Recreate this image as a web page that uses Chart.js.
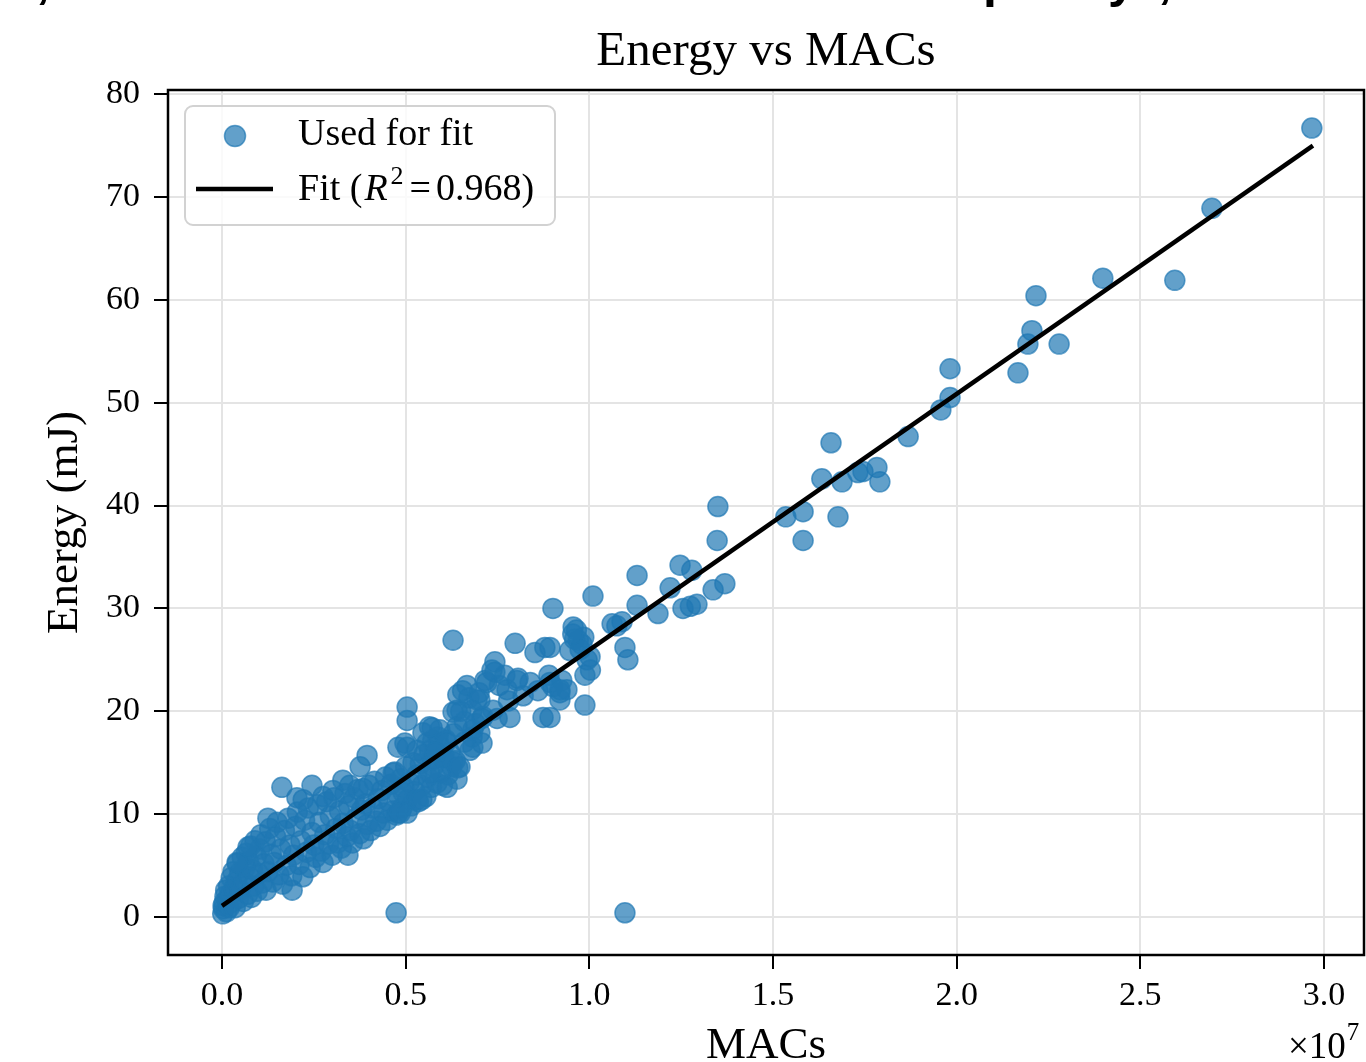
<!DOCTYPE html>
<html>
<head>
<meta charset="utf-8">
<title>Energy vs MACs</title>
<script src="https://cdn.jsdelivr.net/npm/chart.js@4.4.1/dist/chart.umd.min.js"></script>
<style>
  html, body { margin: 0; padding: 0; background: #fff; overflow: hidden; }
  #wrap { width: 1366px; height: 1062px; }
</style>
</head>
<body>
<div id="wrap"><canvas id="energyChart" width="1366" height="1062"></canvas></div>
<script>
// ===============================
// Data (MACs in units of 1e7, energy in mJ)
// ===============================
const usedForFit = [
  // dense cluster near the origin
  [0.002,0.3],[0.004,0.8],[0.006,1.4],[0.008,2.0],[0.003,1.1],[0.010,2.6],[0.012,0.5],[0.015,1.7],
  [0.018,3.0],[0.020,0.9],[0.022,2.2],[0.025,3.8],[0.028,1.4],[0.030,4.4],[0.033,2.8],[0.036,0.9],
  [0.040,3.5],[0.042,5.2],[0.045,1.8],[0.048,4.3],[0.050,2.6],[0.055,5.8],[0.058,1.5],[0.060,3.4],
  [0.063,4.8],[0.066,6.2],[0.070,2.2],[0.072,5.4],[0.075,3.9],[0.078,6.9],[0.080,1.9],[0.083,4.6],
  [0.086,3.0],[0.090,7.4],[0.093,5.9],[0.096,2.5],[0.100,4.2],[0.103,6.6],[0.106,8.0],[0.110,3.3],
  [0.114,5.2],[0.118,7.3],[0.120,2.6],[0.125,4.4],[0.130,8.6],[0.134,6.1],[0.138,3.4],[0.142,5.3],
  [0.146,7.8],[0.150,9.2],[0.155,4.1],[0.160,6.6],[0.165,3.2],[0.170,8.4],[0.175,5.0],[0.180,9.6],
  [0.185,7.0],[0.190,4.0],[0.195,6.0],[0.200,8.8],[0.205,10.2],[0.210,5.1],[0.215,7.4],[0.220,3.9],
  [0.225,9.4],[0.230,6.3],[0.235,10.6],[0.240,4.8],[0.245,8.2],[0.250,7.0],[0.255,5.8],[0.260,10.9],
  [0.265,9.2],[0.270,6.4],[0.275,5.3],[0.280,8.0],[0.285,11.2],[0.290,7.1],[0.295,9.8],[0.300,6.0],
  [0.305,11.6],[0.310,8.6],[0.315,7.2],[0.320,10.3],[0.325,6.7],[0.330,9.1],[0.335,12.0],[0.340,7.8],
  [0.345,10.8],[0.350,8.4],[0.355,7.2],[0.360,11.6],[0.365,9.6],[0.370,12.4],[0.375,8.1],[0.380,10.4],
  [0.385,7.6],[0.390,11.0],[0.395,9.0],[0.400,12.8],[0.405,8.4],[0.410,10.6],[0.415,13.2],[0.420,9.3],
  [0.425,11.5],[0.430,8.8],[0.435,12.3],[0.440,10.1],[0.445,13.6],[0.450,9.4],[0.455,11.2],[0.460,12.9],
  [0.465,10.3],[0.470,14.1],[0.475,9.9],[0.480,11.8],[0.485,13.4],[0.490,10.6],[0.495,12.6],[0.500,14.6],
  [0.505,11.4],[0.510,13.1],[0.515,10.8],[0.520,15.0],[0.525,12.2],[0.530,13.8],[0.535,11.2],[0.540,14.9],
  [0.545,12.8],[0.550,15.8],[0.555,11.7],[0.560,13.6],[0.565,16.2],[0.570,12.6],[0.575,14.6],[0.580,15.4],
  [0.585,13.0],[0.590,16.8],[0.595,14.0],[0.600,12.8],[0.605,15.6],[0.610,17.2],[0.615,13.8],[0.620,16.0],
  [0.625,14.6],[0.630,17.8],[0.635,15.2],[0.640,13.4],
  // stragglers around the dense band
  [0.041,5.3],[0.071,6.8],[0.125,9.6],[0.163,12.6],[0.191,2.6],[0.204,11.6],[0.221,11.4],[0.245,12.8],
  [0.275,11.7],[0.302,12.3],[0.329,13.3],[0.343,6.0],[0.348,12.8],[0.376,14.6],[0.384,12.5],[0.395,15.7],
  [0.466,14.0],[0.479,10.1],[0.479,16.5],[0.485,10.1],[0.493,12.1],[0.498,16.9],[0.504,10.1],[0.504,16.5],
  [0.504,19.1],[0.504,20.4],[0.531,11.4],[0.531,16.2],[0.544,11.4],[0.547,17.9],[0.558,16.9],[0.566,14.0],
  [0.572,18.4],[0.574,15.3],[0.574,17.2],[0.588,17.5],[0.593,18.2],[0.602,15.5],[0.613,12.6],[0.565,18.5],
  [0.610,17.0],[0.580,16.0],[0.629,15.1],[0.642,14.5],[0.648,14.6],[0.675,16.2],[0.683,16.5],[0.681,17.5],
  [0.702,17.9],[0.708,16.9],[0.683,18.2],[0.640,18.5],[0.660,17.0],[0.690,18.8],[0.650,20.0],[0.629,19.9],
  [0.681,20.1],[0.708,19.3],[0.749,19.3],[0.784,19.4],[0.738,20.1],[0.640,20.1],[0.710,19.5],[0.660,19.0],
  [0.642,21.6],[0.667,22.5],[0.655,22.0],[0.672,21.3],[0.694,21.1],[0.702,21.1],[0.700,21.8],[0.716,23.0],
  [0.721,22.8],[0.735,24.0],[0.743,23.8],[0.743,24.8],[0.755,22.5],[0.770,23.5],[0.776,22.1],[0.780,21.0],
  [0.803,23.0],[0.806,23.2],[0.820,21.5],[0.839,22.8],[0.860,22.0],[0.874,19.4],[0.890,23.5],[0.893,22.8],
  [0.893,19.4],[0.901,22.4],[0.920,21.1],[0.920,21.8],[0.925,23.0],[0.939,22.1],[0.920,22.1],[0.988,20.6],
  [0.988,23.5],[0.994,25.0],[1.002,25.3],[1.003,24.0],[0.947,25.9],[0.960,27.0],[0.970,26.9],[0.975,26.0],
  [0.985,27.2],[0.980,26.5],[0.956,28.2],[0.965,27.9],[0.955,27.5],[0.893,26.2],[0.879,26.2],[0.852,25.7],
  [0.798,26.6],[0.629,26.9],[0.901,30.0],[1.010,31.2],[1.062,28.5],[1.075,28.3],[1.089,28.7],[1.097,26.2],
  [1.105,25.0],[1.130,30.3],[1.130,33.2],[1.187,29.5],[1.220,32.0],[1.247,34.2],[1.255,30.0],[1.275,30.2],
  [1.279,33.7],[1.293,30.4],[1.337,31.8],[1.369,32.4],[1.348,36.6],[1.350,39.9],
  // upper range
  [1.535,38.9],[1.582,39.4],[1.582,36.6],[1.677,38.9],[1.633,42.6],[1.658,46.1],[1.688,42.3],[1.731,43.2],
  [1.745,43.3],[1.783,43.7],[1.791,42.3],[1.868,46.7],[1.957,49.3],[1.982,50.5],[1.982,53.3],[2.167,52.9],
  [2.194,55.7],[2.205,57.0],[2.216,60.4],[2.279,55.7],[2.398,62.1],[2.594,61.9],[2.695,68.9],[2.967,76.7],
  // near-zero energy outliers
  [0.474,0.4],[1.097,0.4]
];

const fitMacs = [0.0, 2.97];
const fitEnergy = [1.07, 75.0];
const fitR2 = "0.968";

const xTickValues = [0.0, 0.5, 1.0, 1.5, 2.0, 2.5, 3.0];
const yTickValues = [0, 10, 20, 30, 40, 50, 60, 70, 80];

const SERIF = '"Liberation Serif", "DejaVu Serif", serif';
const BLUE = "rgba(31, 119, 180, 0.7)";

// ===============================
// Extra drawing: spines, title, axis labels, legend
// ===============================
const decorations = {
  id: "decorations",
  afterDraw(chart) {
    const ctx = chart.ctx;
    const a = chart.chartArea;
    ctx.save();

    // cropped text from above the figure (only descenders remain)
    ctx.fillStyle = "#000";
    ctx.font = 'bold 50px "Liberation Sans", sans-serif';
    ctx.textBaseline = "alphabetic";
    ctx.textAlign = "left";
    ctx.fillText(",", 36, -3);
    ctx.fillText("p", 983, -3);
    ctx.fillText("y", 1108, -3);
    ctx.fillText(",", 1158, -3);

    // spines
    ctx.strokeStyle = "#000";
    ctx.lineWidth = 2.5;
    ctx.strokeRect(a.left, a.top, a.right - a.left, a.bottom - a.top);

    // title
    ctx.fillStyle = "#000";
    ctx.textAlign = "center";
    ctx.font = "49px " + SERIF;
    ctx.fillText("Energy vs MACs", (a.left + a.right) / 2, 65);

    // x label
    ctx.font = "45px " + SERIF;
    ctx.fillText("MACs", (a.left + a.right) / 2, 1058);

    // y label
    ctx.save();
    ctx.translate(77, (a.top + a.bottom) / 2);
    ctx.rotate(-Math.PI / 2);
    ctx.fillText("Energy (mJ)", 0, 0);
    ctx.restore();

    // offset text x10^7
    ctx.textAlign = "left";
    ctx.font = "37px " + SERIF;
    const baseX = 1288;
    ctx.fillText("\u00d710", baseX, 1058);
    const w10 = ctx.measureText("\u00d710").width;
    ctx.font = "25px " + SERIF;
    ctx.fillText("7", baseX + w10 + 1, 1040);

    // legend
    const lx = 185, ly = 106, lw = 370, lh = 119;
    ctx.beginPath();
    ctx.roundRect(lx, ly, lw, lh, 8);
    ctx.fillStyle = "rgba(255,255,255,0.8)";
    ctx.fill();
    ctx.strokeStyle = "#d2d2d2";
    ctx.lineWidth = 2;
    ctx.stroke();

    ctx.beginPath();
    ctx.arc(235, 136, 10.5, 0, Math.PI * 2);
    ctx.fillStyle = BLUE;
    ctx.fill();
    ctx.strokeStyle = BLUE;
    ctx.lineWidth = 1.5;
    ctx.stroke();

    ctx.beginPath();
    ctx.moveTo(196, 189);
    ctx.lineTo(273, 189);
    ctx.strokeStyle = "#000";
    ctx.lineWidth = 4.5;
    ctx.stroke();

    ctx.fillStyle = "#000";
    ctx.font = "38px " + SERIF;
    ctx.fillText("Used for fit", 298, 145);

    let tx = 298;
    const ty = 200;
    ctx.fillText("Fit (", tx, ty);
    tx += ctx.measureText("Fit (").width + 2;
    ctx.font = "italic 38px " + SERIF;
    ctx.fillText("R", tx, ty);
    tx += ctx.measureText("R").width + 3;
    ctx.font = "26px " + SERIF;
    ctx.fillText("2", tx, ty - 16);
    tx += ctx.measureText("2").width + 6;
    ctx.font = "38px " + SERIF;
    ctx.fillText("=", tx, ty);
    tx += ctx.measureText("=").width + 5;
    ctx.fillText(fitR2 + ")", tx, ty);

    ctx.restore();
  }
};

// ===============================
// Chart
// ===============================
new Chart(document.getElementById("energyChart"), {
  type: "scatter",
  data: {
    datasets: [
      {
        type: "line",
        label: "Fit",
        data: fitMacs.map((x, i) => ({ x, y: fitEnergy[i] })),
        borderColor: "#000",
        borderWidth: 4.5,
        pointRadius: 0,
        showLine: true,
        fill: false,
        tension: 0,
        order: 0
      },
      {
        label: "Used for fit",
        data: usedForFit.map(p => ({ x: p[0], y: p[1] })),
        backgroundColor: BLUE,
        borderColor: BLUE,
        borderWidth: 1.5,
        pointRadius: 10,
        pointHoverRadius: 10,
        order: 1
      }
    ]
  },
  options: {
    responsive: false,
    animation: false,
    devicePixelRatio: 1,
    events: [],
    layout: { autoPadding: false, padding: { top: 90, right: 2, left: 0, bottom: 0 } },
    plugins: {
      legend: { display: false },
      title: { display: false },
      tooltip: { enabled: false }
    },
    scales: {
      x: {
        type: "linear",
        min: -0.147,
        max: 3.109,
        afterFit: s => { s.height = 107; s.paddingLeft = 0; s.paddingRight = 0; },
        afterBuildTicks: s => { s.ticks = xTickValues.map(v => ({ value: v })); },
        ticks: {
          callback: v => v.toFixed(1),
          color: "#000",
          padding: 7,
          maxRotation: 0,
          autoSkip: false,
          font: { family: SERIF, size: 34, lineHeight: 1.2 }
        },
        grid: {
          color: "#e4e4e4",
          lineWidth: 2,
          tickLength: 14,
          tickColor: "#000",
          tickWidth: 2
        },
        border: { display: false }
      },
      y: {
        type: "linear",
        min: -3.7,
        max: 80.4,
        afterFit: s => { s.width = 168; s.paddingTop = 0; s.paddingBottom = 0; },
        afterBuildTicks: s => { s.ticks = yTickValues.map(v => ({ value: v })); },
        ticks: {
          callback: v => String(v),
          color: "#000",
          padding: 14,
          autoSkip: false,
          font: { family: SERIF, size: 34 }
        },
        grid: {
          color: "#e4e4e4",
          lineWidth: 2,
          tickLength: 14,
          tickColor: "#000",
          tickWidth: 2
        },
        border: { display: false }
      }
    }
  },
  plugins: [decorations]
});
</script>
</body>
</html>
